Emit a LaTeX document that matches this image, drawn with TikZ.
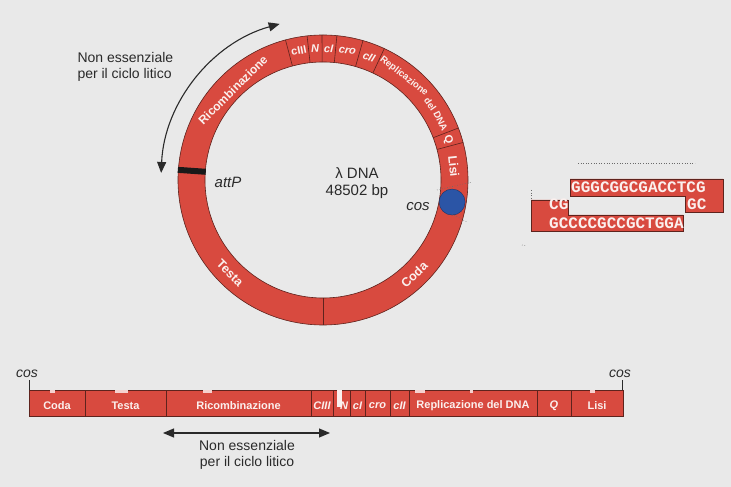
\documentclass[tikz,border=0pt]{standalone}
\usepackage{fontspec}
\setmainfont{Liberation Sans}
\newfontfamily\seqfont{Liberation Mono}
\usepackage{tikz}
\usetikzlibrary{arrows.meta}
\definecolor{sfondo}{HTML}{E9E9E9}
\definecolor{rosso}{HTML}{D84A3F}
\definecolor{bordo}{HTML}{5E231D}
\definecolor{blu}{HTML}{2B55A6}
\definecolor{chiaro}{HTML}{FBF0EE}
\definecolor{scuro}{HTML}{2A2A2A}

\begin{document}
\begin{tikzpicture}[x=1pt,y=1pt,
anello/.style={fill=rosso, draw=bordo, line width=0.6pt},
divisore/.style={draw=bordo, line width=0.6pt},
gene/.style={text=chiaro, font=\bfseries\fontsize{11}{13}\selectfont, inner sep=0pt},
genei/.style={gene, font=\bfseries\itshape\fontsize{11}{13}\selectfont},
genel/.style={gene, font=\bfseries\fontsize{12.5}{14}\selectfont},
repl/.style={gene, font=\bfseries\fontsize{9.5}{11}\selectfont},
barra/.style={text=chiaro, font=\bfseries\fontsize{11}{13}\selectfont, inner sep=0pt},
barrai/.style={barra, font=\bfseries\itshape\fontsize{11}{13}\selectfont},
testo/.style={text=scuro, font=\fontsize{14}{16}\selectfont},
corsivo/.style={text=scuro, font=\itshape\fontsize{15}{17}\selectfont, inner sep=1pt},
freccia/.style={draw=scuro, line width=1.1pt, {Triangle[length=11pt,width=9pt]}-{Triangle[length=11pt,width=9pt]}},
traccia/.style={draw=scuro!70, dotted, line width=0.6pt},
sequenza/.style={text=chiaro, font=\seqfont\bfseries\fontsize{16}{16}\selectfont, inner sep=0pt, anchor=base west},
]
\fill[sfondo] (0,0) rectangle (731,487);
\useasboundingbox (0,0) rectangle (731,487);

%Anello
\coordinate (centro) at (323,307);
\fill[rosso, even odd rule] (centro) circle[radius=145] (centro) circle[radius=118];
\draw[divisore] (centro) circle[radius=145] (centro) circle[radius=118];
\foreach \a in {-90,15,21,65,74,84.5,90.4,96.3,105}
  \draw[divisore] ([shift={(\a:118)}]centro) -- ([shift={(\a:145)}]centro);
\draw[line width=6pt, black!90] ([shift={(176:117.5)}]centro) -- ([shift={(176:145.5)}]centro);

\node[gene, rotate=10.6]   (a_ciii) at ([shift={(100.6:131.5)}]centro) {cIII};
\node[genei, rotate=3.4]   (a_n)    at ([shift={(93.4:131.5)}]centro)  {N};
\node[genei, rotate=-2.5]  (a_ci)   at ([shift={(87.5:131.5)}]centro)  {cI};
\node[genei, rotate=-10.7] (a_cro)  at ([shift={(79.3:131.5)}]centro)  {cro};
\node[genei, rotate=-20.5] (a_cii)  at ([shift={(69.5:131.5)}]centro)  {cII};
\node[repl, rotate=-38]    (a_repl) at ([shift={(52:131.5)}]centro)    {Replicazione};
\node[repl, rotate=-54.7]  (a_del)  at ([shift={(35.3:131.5)}]centro)  {del};
\node[repl, rotate=-63.4]  (a_dna)  at ([shift={(26.6:131.5)}]centro)  {DNA};
\node[gene, rotate=-72]    (a_q)    at ([shift={(18:131.5)}]centro)    {Q};
\node[genel, rotate=-84]   (a_lisi) at ([shift={(6:131.5)}]centro)     {Lisi};
\node[genel, rotate=44]    (a_coda) at ([shift={(-46:131.5)}]centro)   {Coda};
\node[genel, rotate=-45]   (a_testa) at ([shift={(-135:131.5)}]centro) {Testa};
\node[gene, font=\bfseries\fontsize{12}{14}\selectfont, rotate=45] (a_ricomb) at ([shift={(135:127.5)}]centro) {Ricombinazione};

\node[circle, fill=blu, draw=blu!60!black, minimum size=26pt, inner sep=0pt] (cos_anello) at ([shift={(-9.7:131)}]centro) {};
\coordinate (t1a) at (437,297);
\coordinate (t1b) at (472,305);
\coordinate (t2a) at (452,273);
\coordinate (t2b) at (467,265);
\draw[traccia] (t1a) -- (t1b);
\draw[traccia] (t2a) -- (t2b);

\node[text=scuro, font=\fontsize{15}{17}\selectfont, align=center] (genoma) at (357,304) {λ DNA\\48502 bp};
\node[corsivo] (attp) at (228,305) {attP};
\node[corsivo] (cos_lab) at (418,280) {cos};

\draw[freccia] ([shift={(177.5:162)}]centro) arc[start angle=177.5, end angle=105.5, radius=162];
\node[testo, anchor=west, align=left] (nonessenziale_a) at (74,420) {Non essenziale\\per il ciclo litico};

%Estremita coesive
\draw[fill=rosso, draw=bordo, line width=0.5pt] (570,308) -- (723,308) -- (723,275) -- (685,275) -- (685,291) -- (570,291) -- cycle;
\draw[fill=rosso, draw=bordo, line width=0.5pt] (531,287) -- (568,287) -- (568,272) -- (683,272) -- (683,256) -- (531,256) -- cycle;
\node[sequenza] (filo_sup) at (571,294) {GGGCGGCGACCTCG};
\node[sequenza] (coda_sup) at (687,277) {GC};
\node[sequenza] (coda_inf) at (549,277) {CG};
\node[sequenza] (filo_inf) at (549,258) {GCCCCGCCGCTGGA};
\coordinate (p1) at (578,324);
\coordinate (p2) at (695,324);
\draw[traccia] (p1) -- (p2);
\draw[traccia] (531,297) -- (531,289);
\draw[traccia] (522,242) -- (527,241);

%Mappa lineare
\foreach \da/\a in {29/85,85/166,166/311,311/333,333/350,350/365,365/390,390/409,409/537,537/571,571/623}
  \draw[anello] (\da,71) rectangle (\a,97);
\fill[chiaro] (337,80) rectangle (342,97);
\foreach \da/\a in {50/55,115/128,203/212,415/425,470/473,590/595}
  \fill[rosso!25!white] (\da,94) rectangle (\a,97);
\foreach \x/\s/\t in {57/barra/Coda,125.5/barra/Testa,238.5/barra/Ricombinazione,322/barrai/CIII,
  344/barrai/N,357.5/barrai/cI,377.5/barrai/cro,399.5/barrai/cII,473/barra/Replicazione del DNA,
  554/barrai/Q,597/barra/Lisi}
  \node[\s] at (\x,81) {\t};

\node[text=scuro, font=\itshape\fontsize{14}{16}\selectfont, inner sep=1pt] (cos_sx) at (27,113) {cos};
\node[text=scuro, font=\itshape\fontsize{14}{16}\selectfont, inner sep=1pt] (cos_dx) at (620,113) {cos};
\coordinate (cos_sx_p) at (29,97);
\coordinate (cos_dx_p) at (622.5,97);
\draw[scuro, line width=0.8pt] (cos_sx_p) -- ++(0,10);
\draw[scuro, line width=0.8pt] (cos_dx_p) -- ++(0,10);

\coordinate (ne_sx) at (163,54);
\coordinate (ne_dx) at (330,54);
\draw[freccia] (ne_sx) -- (ne_dx);
\node[testo, align=center] (nonessenziale_b) at (247,32) {Non essenziale\\per il ciclo litico};

\end{tikzpicture}
\end{document}
